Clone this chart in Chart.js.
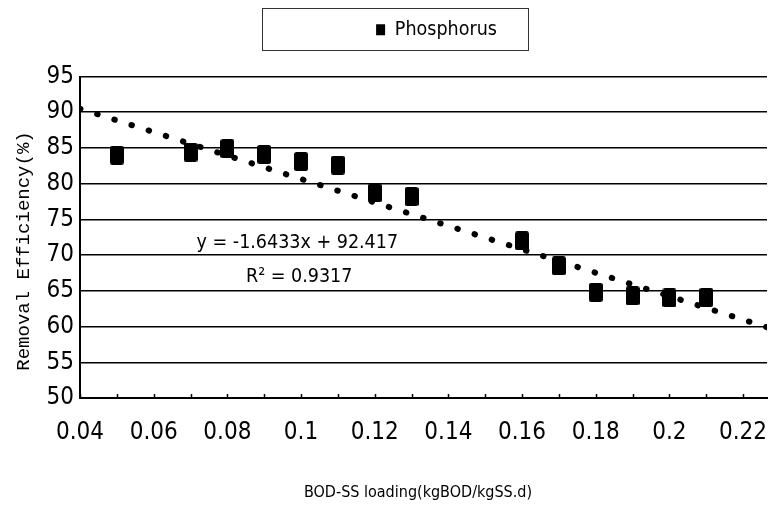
<!DOCTYPE html>
<html><head><meta charset="utf-8">
<script src="https://cdn.jsdelivr.net/npm/chart.js@4.4.1/dist/chart.umd.min.js"></script>
<style>html,body{margin:0;padding:0;background:#fff;overflow:hidden}#wrap{width:771px;height:510px}</style>
</head><body><div id="wrap"><canvas id="c" width="771" height="510"></canvas></div>
<script>
// ---- data ----
const loading    = [0.05, 0.07, 0.08, 0.09, 0.10, 0.11, 0.12, 0.13, 0.16, 0.17, 0.18, 0.19, 0.20, 0.21];
const phosphorus = [84.0, 84.4, 84.9, 84.1, 83.1, 82.6, 78.7, 78.2, 72.0, 68.5, 64.8, 64.3, 64.0, 64.1];
const trendX = [0.04, 0.2265];
const trendY = [90.5, 59.9];
const xTickValues = [0.04, 0.06, 0.08, 0.10, 0.12, 0.14, 0.16, 0.18, 0.20, 0.22];
const xTickLabels = ['0.04','0.06','0.08','0.1','0.12','0.14','0.16','0.18','0.2','0.22'];
const yTickLabels = ['50','55','60','65','70','75','80','85','90','95'];
const equationLines = ['y = -1.6433x + 92.417', 'R\u00B2 = 0.9317'];
const equationPos = [[0.099, 71.7], [0.0995, 66.9]];
const seriesName = 'Phosphorus';
const xTitle = 'BOD-SS loading(kgBOD/kgSS.d)';
const yTitle = 'Removal Efficiency(%)';

const NARROW = '"Liberation Sans Narrow", "DejaVu Sans Condensed", "Arial Narrow", sans-serif';
const MONO = '"Liberation Mono", "DejaVu Sans Mono", monospace';

function markerCanvas(w, h) {
  const c = document.createElement('canvas');
  c.width = w; c.height = h;
  const g = c.getContext('2d');
  g.fillStyle = '#000';
  g.beginPath();
  if (g.roundRect) g.roundRect(0, 0, w, h, 2.5); else g.rect(0, 0, w, h);
  g.fill();
  return c;
}

const decor = {
  id: 'decor',
  afterLayout(chart) {
    const lg = chart.legend;
    if (lg) { lg.left += 51; lg.right += 51; lg.top -= 27; lg.bottom -= 27; }
  },
  afterDraw(chart) {
    const ctx = chart.ctx;
    const xs = chart.scales.x, ys = chart.scales.y;
    ctx.save();
    // small upward ticks on the x axis
    ctx.strokeStyle = '#000'; ctx.lineWidth = 1.5;
    xs.ticks.forEach((t, i) => {
      const px = Math.round(xs.getPixelForTick(i)) + 0.5;
      ctx.beginPath(); ctx.moveTo(px, ys.bottom); ctx.lineTo(px, ys.bottom - 4); ctx.stroke();
    });
    // legend frame
    ctx.strokeStyle = '#333'; ctx.lineWidth = 1;
    ctx.strokeRect(262.5, 8.5, 266, 42);
    // equation text
    ctx.fillStyle = '#000';
    ctx.font = '19.5px ' + NARROW;
    ctx.textAlign = 'center'; ctx.textBaseline = 'middle';
    equationLines.forEach((s, i) => {
      ctx.fillText(s, xs.getPixelForValue(equationPos[i][0]), ys.getPixelForValue(equationPos[i][1]));
    });
    // axis titles
    ctx.font = '16px ' + NARROW;
    ctx.fillText(xTitle, 418, 493);
    ctx.translate(24, 251);
    ctx.rotate(-Math.PI / 2);
    ctx.font = '19px ' + MONO;
    ctx.fillText(yTitle, 0, 0);
    ctx.restore();
  }
};

new Chart(document.getElementById('c'), {
  type: 'scatter',
  data: {
    datasets: [
      {
        label: seriesName,
        data: loading.map((x, i) => ({ x, y: phosphorus[i] })),
        pointStyle: markerCanvas(14, 19),
        backgroundColor: '#000',
        borderColor: '#000',
        borderWidth: 0,
        order: 0
      },
      {
        label: 'trend',
        type: 'line',
        data: trendX.map((x, i) => ({ x, y: trendY[i] })),
        borderColor: '#000',
        borderWidth: 6,
        borderDash: [0.5, 17.5],
        borderCapStyle: 'round',
        pointRadius: 0,
        fill: false,
        order: 1
      }
    ]
  },
  options: {
    responsive: false,
    devicePixelRatio: 1,
    animation: false,
    layout: { padding: { top: 0, left: 0, right: 0, bottom: 0 } },
    plugins: {
      tooltip: { enabled: false },
      legend: {
        display: true,
        position: 'top',
        labels: {
          filter: item => item.datasetIndex === 0,
          font: { family: NARROW, size: 19.5 },
          color: '#000',
          boxWidth: 9,
          boxHeight: 11,
          padding: 47
        }
      }
    },
    scales: {
      x: {
        type: 'linear',
        min: 0.04,
        max: trendX[1],
        afterFit: s => { s.height = 112; s.paddingRight = 0; },
        grid: { display: false },
        border: { display: true, color: '#000', width: 2 },
        ticks: {
          stepSize: 0.01,
          autoSkip: false,
          maxRotation: 0,
          includeBounds: false,
          padding: 12,
          color: '#000',
          font: { family: NARROW, size: 24 },
          callback: v => {
            const k = xTickValues.findIndex(t => Math.abs(t - v) < 1e-6);
            return k >= 0 ? xTickLabels[k] : '';
          }
        }
      },
      y: {
        min: 50,
        max: 95,
        afterFit: s => { s.width = 80; },
        grid: { color: '#000', lineWidth: 1.5, drawTicks: false },
        border: { display: true, color: '#000', width: 2 },
        ticks: {
          stepSize: 5,
          padding: 6,
          color: '#000',
          font: { family: NARROW, size: 24 },
          callback: v => { const k = yTickLabels.indexOf(String(v)); return k >= 0 ? yTickLabels[k] : ''; }
        }
      }
    }
  },
  plugins: [decor]
});
</script>
</body></html>
